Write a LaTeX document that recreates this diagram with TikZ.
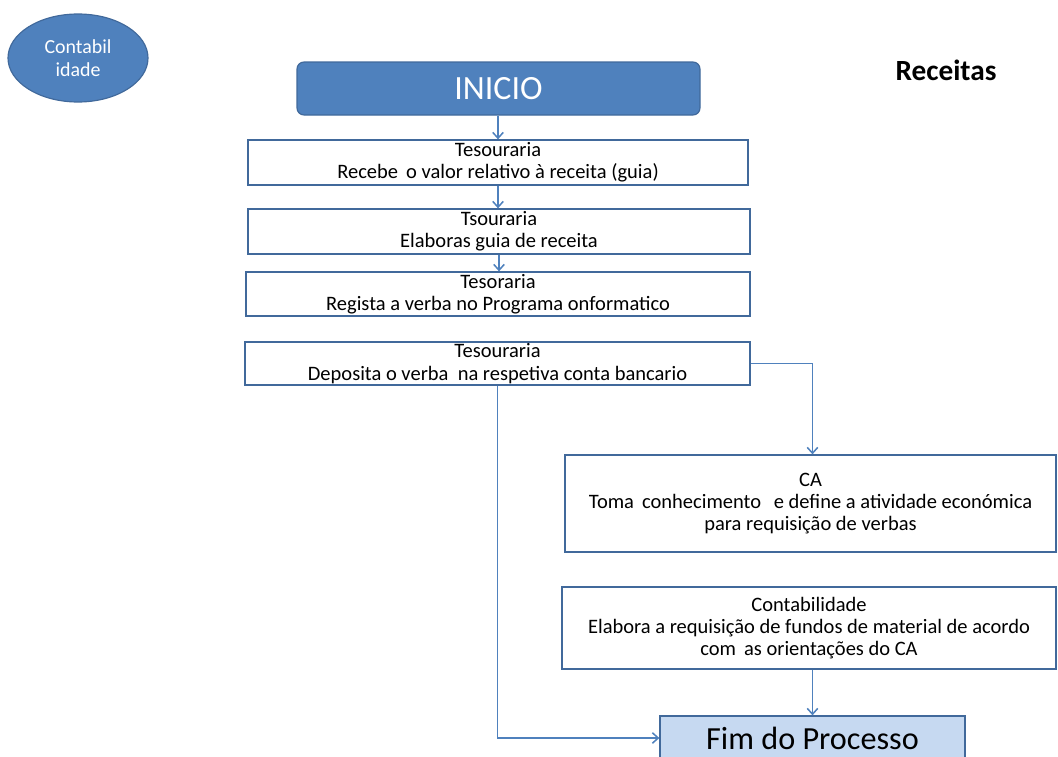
\documentclass[tikz,border=0pt]{standalone}
\usepackage{fontspec}
\setmainfont{Carlito}
\usepackage{xcolor}
\usetikzlibrary{shapes}
\usetikzlibrary{arrows.meta}
\definecolor{officeblue}{HTML}{4F81BD}
\definecolor{officeedge}{HTML}{41699B}
\definecolor{paleblue}{HTML}{C6D9F1}
\newcommand{\pxu}{0.03cm}
\tikzset{
	taskbox/.style={rectangle,draw=officeedge,line width=1.1pt,align=center,
		inner sep=0pt,font=\fontsize{17.5}{19}\selectfont},
	startbox/.style={rectangle,rounded corners=6pt,draw=officeedge,fill=officeblue,
		line width=1pt,text=white,font=\fontsize{29}{32}\selectfont},
	endbox/.style={rectangle,draw=officeedge,fill=paleblue,line width=1.1pt,
		font=\fontsize{27.5}{30}\selectfont},
	sector/.style={ellipse,draw=officeedge,fill=officeblue,line width=1pt,text=white,
		align=center,inner sep=0pt,font=\fontsize{17}{19.5}\selectfont},
	flow/.style={draw=officeblue,line width=1.3pt,-{Straight Barb[length=5pt,width=9pt]}}
}

\begin{document}
\begin{tikzpicture}[x=\pxu,y=-\pxu]
	\useasboundingbox (0,0) rectangle (1058,757);
	\clip (0,0) rectangle (1058,757);
	% top: sector, start and title
	\node [sector,minimum width=140*\pxu,minimum height=88*\pxu] (setor) at (78,58) {Contabil\\idade};
	\node [startbox,minimum width=403*\pxu,minimum height=53*\pxu] (inicio) at (498.5,88.5) {INICIO};
	\node [font=\fontsize{25}{28}\selectfont\bfseries] (titulo) at (946,70) {Receitas};
	% tesouraria
	\node [taskbox,minimum width=500*\pxu,minimum height=45*\pxu] (t1) at (498,162.5)
		{Tesouraria\\Recebe\ \,o valor relativo à receita (guia)};
	\node [taskbox,minimum width=502*\pxu,minimum height=45*\pxu] (t2) at (499,231.5)
		{Tsouraria\\Elaboras guia de receita};
	\node [taskbox,minimum width=504*\pxu,minimum height=44*\pxu] (t3) at (498,294)
		{Tesoraria\\Regista a verba no Programa onformatico};
	\node [taskbox,minimum width=505*\pxu,minimum height=43*\pxu] (t4) at (497.5,363.5)
		{Tesouraria\\Deposita o verba\ \ na respetiva conta bancario};
	% CA and contabilidade
	\node [taskbox,minimum width=491*\pxu,minimum height=97*\pxu] (ca) at (810.5,503.5)
		{CA\\Toma\ \,conhecimento\ \ \,e define a atividade económica\\para requisição de verbas};
	\node [taskbox,minimum width=494*\pxu,minimum height=82*\pxu] (cont) at (809,628)
		{Contabilidade\\Elabora a requisição de fundos de material de acordo\\com\ \,as orientações do CA};
	\node [endbox,minimum width=305*\pxu,minimum height=44*\pxu] (fim) at (812.5,738) {Fim do Processo};
	% connectors
	\draw [flow] (inicio.south -| t1.north) -- (t1.north);
	\draw [flow] (t1.south) -- (t2.north -| t1.south);
	\draw [flow] (t2.south) -- (t3.north -| t2.south);
	\draw [flow] (t4.east) -| (ca.north -| fim.north);
	\draw [flow] (t4.south) |- (fim.west);
	\draw [flow] (cont.south -| fim.north) -- (fim.north);
\end{tikzpicture}
\end{document}
